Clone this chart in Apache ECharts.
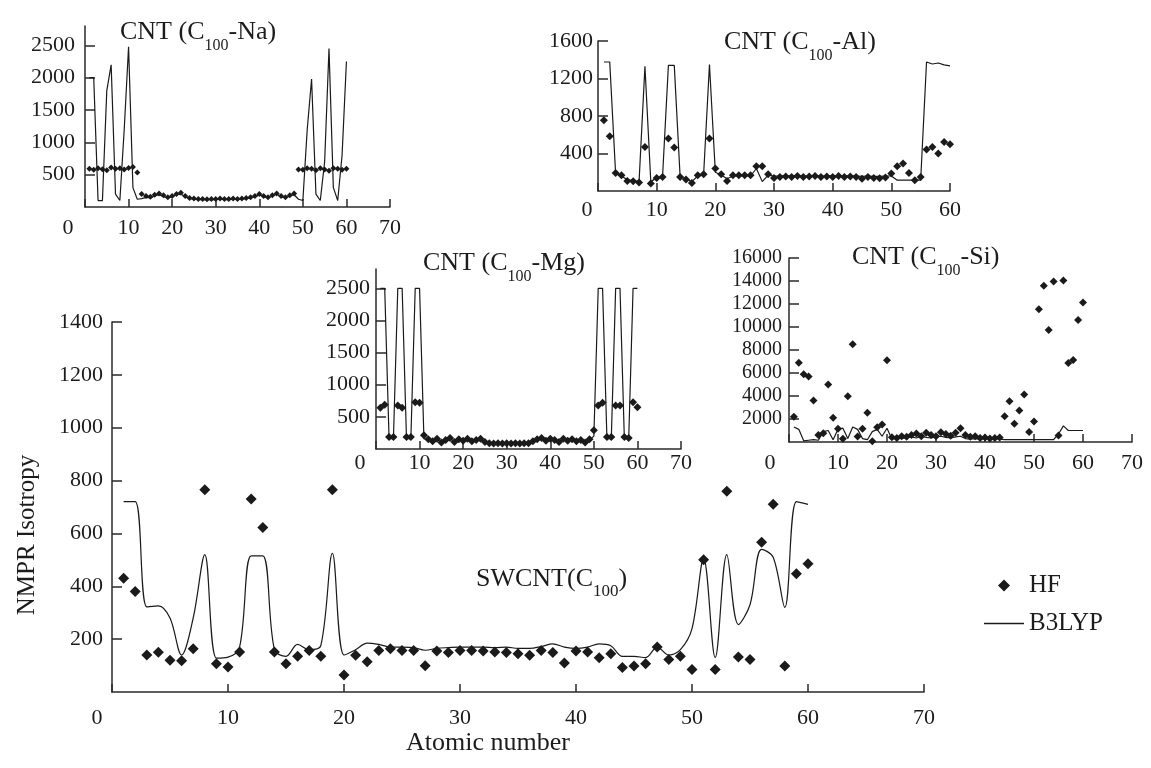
<!DOCTYPE html>
<html>
<head>
<meta charset="utf-8">
<script src="https://cdn.jsdelivr.net/npm/echarts@6/dist/echarts.min.js"></script>
<style>
html, body { margin: 0; padding: 0; background: #ffffff; }
#chart { width: 1151px; height: 768px; }
</style>
</head>
<body>
<div id="chart"></div>
<script>
// Atomic number of the adsorbed atom (x for every panel)
const atomicNumbers = [1,2,3,4,5,6,7,8,9,10,11,12,13,14,15,16,17,18,19,20,
  21,22,23,24,25,26,27,28,29,30,31,32,33,34,35,36,37,38,39,40,
  41,42,43,44,45,46,47,48,49,50,51,52,53,54,55,56,57,58,59,60];

// SWCNT(C100) — main panel
const swcntHF = [430,380,140,150,120,118,164,765,107,95, 151,730,622,151,107,135,157,135,765,64,
  139,114,157,164,157,157,99,155,149,157, 157,155,151,149,145,139,157,149,110,155,
  151,130,145,93,98,107,170,123,135,85, 500,85,760,132,123,567,710,98,447,485];
const swcntB3LYP = [720,720,322,326,280,140,280,520,128,132, 170,515,515,160,135,180,160,175,525,140,
  160,185,180,170,170,168,158,165,168,170, 170,170,168,170,165,165,172,182,170,165,
  170,182,175,135,135,130,170,140,160,240, 505,130,520,255,330,540,510,320,720,710];

// CNT (C100-Na)
const naHF = [590,575,600,585,570,610,590,600,580,605, 620,535,200,170,160,190,210,180,150,170,
  200,220,170,140,130,125,125,120,125,125, 130,125,125,130,125,130,140,150,170,200,
  170,150,180,210,170,150,180,210,580,575, 600,590,570,600,580,560,600,590,575,590];
const naB3LYP = [2000,2000,100,100,1800,2200,200,100,1200,2480, 300,120,130,150,140,170,190,160,140,160,
  190,200,160,130,120,115,115,110,115,115, 120,115,115,120,115,120,130,140,160,190,
  160,140,170,200,160,140,170,190,120,100, 1200,1980,200,100,700,2450,300,100,800,2250];

// CNT (C100-Al)
const alHF = [755,584,193,168,108,104,90,470,80,140, 150,560,464,150,122,86,168,179,560,240,
  179,108,168,168,168,168,264,264,179,140, 150,155,150,160,150,155,160,150,155,150,
  160,150,155,150,130,150,140,135,145,187, 264,293,193,115,150,442,470,400,523,500];
const alB3LYP = [1376,1376,190,160,120,110,100,1330,100,140, 150,1340,1340,150,130,100,160,170,1350,200,
  170,130,160,160,160,160,240,100,170,160, 160,165,160,165,160,160,165,160,160,165,
  160,160,165,160,155,160,155,155,160,160, 115,115,115,115,115,1376,1355,1365,1345,1335];

// CNT (C100-Mg)
const mgHF = [640,690,186,186,676,640,186,186,727,720, 212,150,120,160,100,140,170,110,150,130,
  160,120,140,160,110,90,85,90,85,90, 85,90,85,90,90,120,150,170,130,160,
  140,110,160,130,150,120,140,100,150,290, 676,720,186,186,676,676,186,170,727,650];
const mgB3LYP = [2500,2500,160,160,2500,2500,160,160,2500,2500, 160,140,120,150,110,130,160,120,140,130,
  150,120,130,150,110,95,90,95,90,95, 90,95,90,95,95,115,140,160,130,150,
  135,115,150,130,145,120,135,110,140,200, 2500,2500,160,160,2500,2500,160,160,2500,2500];

// CNT (C100-Si)
const siHF = [2200,6900,5900,5700,3600,600,770,5000,2100,1150, 280,3970,8500,480,1150,2550,70,1290,1530,7100,
  420,350,500,450,600,750,500,800,600,500, 850,700,550,800,1200,600,450,500,350,400,
  300,350,400,2250,3540,1590,2750,4120,860,1790, 11550,13580,9740,13960,570,14050,6880,7120,10610,12120];
const siB3LYP = [1300,1100,100,150,200,150,900,1000,200,1100, 1200,300,1300,1100,300,200,900,1100,500,1200,
  250,350,300,400,450,350,500,400,350,450, 500,400,350,450,500,300,250,300,250,300,
  250,300,250,200,200,200,200,200,200,200, 200,200,200,200,700,1400,1000,1000,1000,1000];

// Tick values shown on the Na and Mg panels' vertical axes
const yTicksNaMg = [500,1000,1500,2000,2500];

const SERIF = '"Liberation Serif", "Times New Roman", serif';
const INK = '#2a2a2a';
const TXT = '#1c1c1c';
const MARK = '#1a1a1a';

const pairs = (xs, ys) => xs.map((x, i) => [x, ys[i]]);
const plain = v => String(v);

function xAxisFor(grid, max, margin, zeroShift) {
  return {
    type: 'value', gridIndex: grid, min: 0, max: max, interval: 10,
    axisLine: { show: true, onZero: false, lineStyle: { color: INK, width: 1.5 } },
    axisTick: { show: true, inside: true, length: 8, lineStyle: { color: INK, width: 1.5 } },
    splitLine: { show: false },
    axisLabel: {
      margin: margin, color: TXT, fontFamily: SERIF, fontSize: 22,
      formatter: v => (v === 0 ? '{z|0}' : String(v)),
      rich: { z: { fontFamily: SERIF, fontSize: 22, color: TXT, padding: [0, zeroShift * 2, 0, 0] } }
    }
  };
}

function yAxisFor(grid, max, interval, margin, fontSize, custom) {
  const ax = {
    type: 'value', gridIndex: grid, min: 0, max: max, interval: interval,
    axisLine: { show: true, onZero: false, lineStyle: { color: INK, width: 1.5 } },
    axisTick: { show: true, inside: true, length: 10, lineStyle: { color: INK, width: 1.5 } },
    splitLine: { show: false },
    axisLabel: { margin: margin, color: TXT, fontFamily: SERIF, fontSize: fontSize, formatter: plain }
  };
  if (custom) {
    ax.axisLabel.customValues = custom;
    ax.axisTick.customValues = custom;
  } else {
    ax.axisLabel.showMinLabel = false;
  }
  return ax;
}

const titleRich = {
  m: { fontFamily: SERIF, fontWeight: 'normal', fontSize: 26, lineHeight: 27, color: TXT },
  s: { fontFamily: SERIF, fontWeight: 'normal', fontSize: 16, lineHeight: 27, padding: [26, 0, 0, 0], color: TXT }
};
const mainRich = {
  m: { fontFamily: SERIF, fontWeight: 'normal', fontSize: 26, lineHeight: 28, color: TXT },
  s: { fontFamily: SERIF, fontWeight: 'normal', fontSize: 17, lineHeight: 28, padding: [26, 0, 0, 0], color: TXT }
};

function label(text, left, top, rich) {
  return { text: text, left: left, top: top, padding: 0,
    textStyle: { fontFamily: SERIF, fontWeight: 'normal', rich: rich } };
}

const lineStyle = { color: MARK, width: 1.2 };
const dotStyle = { color: MARK, opacity: 1 };

function hfSeries(idx, ys, size) {
  return { name: 'HF', type: 'scatter', xAxisIndex: idx, yAxisIndex: idx,
    data: pairs(atomicNumbers, ys), symbol: 'diamond', symbolSize: size,
    itemStyle: dotStyle, clip: false, z: 3 };
}
function dftSeries(idx, ys, smooth) {
  return { name: 'B3LYP', type: 'line', xAxisIndex: idx, yAxisIndex: idx,
    data: pairs(atomicNumbers, ys), symbol: 'none', smooth: smooth,
    itemStyle: { color: MARK }, lineStyle: lineStyle, clip: false, z: 2 };
}

const chart = echarts.init(document.getElementById('chart'), null, { renderer: 'canvas' });
chart.setOption({
  animation: false,
  backgroundColor: '#ffffff',
  title: [
    label('{m|CNT (C}{s|100}{m|-Na)}', 120, 19, titleRich),
    label('{m|CNT (C}{s|100}{m|-Al)}', 724, 29, titleRich),
    label('{m|CNT (C}{s|100}{m|-Mg)}', 423, 250, titleRich),
    label('{m|CNT (C}{s|100}{m|-Si)}', 852, 244, titleRich),
    label('{m|SWCNT(C}{s|100}{m|)}', 476, 565, mainRich)
  ],
  legend: {
    data: [
      { name: 'HF', icon: 'path://M5,0 L10,5 L5,10 L0,5 Z', itemStyle: { color: MARK } },
      { name: 'B3LYP', icon: 'path://M0,0 L40,0 L40,1.4 L0,1.4 Z', itemStyle: { color: MARK } }
    ],
    symbolKeepAspect: true,
    orient: 'vertical', left: 979, top: 568, itemWidth: 40, itemHeight: 12, itemGap: 13,
    selectedMode: false,
    textStyle: { fontFamily: SERIF, fontSize: 25, color: TXT }
  },
  grid: [
    { left: 112, top: 322, width: 812, height: 370 },
    { left: 85, top: 26, width: 305, height: 181 },
    { left: 598, top: 41, width: 352, height: 150 },
    { left: 376, top: 269, width: 305, height: 180 },
    { left: 789, top: 258, width: 343, height: 184 }
  ],
  xAxis: [
    Object.assign(xAxisFor(0, 70, 15, 15), {
      name: 'Atomic number', nameLocation: 'middle', nameGap: 25,
      nameTextStyle: { fontFamily: SERIF, fontSize: 26, color: TXT, padding: [0, 60, 0, 0] }
    }),
    xAxisFor(1, 70, 10, 17),
    xAxisFor(2, 60, 8, 11),
    xAxisFor(3, 70, 3, 16),
    xAxisFor(4, 70, 10, 19)
  ],
  yAxis: [
    Object.assign(yAxisFor(0, 1400, 200, 9, 22, null), {
      name: 'NMPR Isotropy', nameLocation: 'middle', nameGap: 72, nameRotate: 90,
      nameTextStyle: { fontFamily: SERIF, fontSize: 25, color: TXT, padding: [0, 56, 0, 0] }
    }),
    yAxisFor(1, 2800, 500, 10, 22, yTicksNaMg),
    yAxisFor(2, 1600, 400, 5, 22, null),
    yAxisFor(3, 2800, 500, 6, 22, yTicksNaMg),
    yAxisFor(4, 16000, 2000, 7, 20, null)
  ],
  series: [
    dftSeries(0, swcntB3LYP, 0.35),
    hfSeries(0, swcntHF, 11),
    dftSeries(1, naB3LYP, false),
    hfSeries(1, naHF, 6),
    dftSeries(2, alB3LYP, false),
    hfSeries(2, alHF, 8),
    dftSeries(3, mgB3LYP, false),
    hfSeries(3, mgHF, 8),
    dftSeries(4, siB3LYP, false),
    hfSeries(4, siHF, 8)
  ]
});
</script>
</body>
</html>
